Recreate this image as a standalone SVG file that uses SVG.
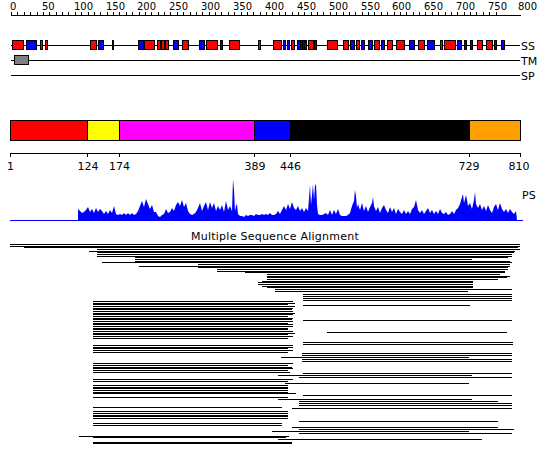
<svg xmlns="http://www.w3.org/2000/svg" width="550" height="465" viewBox="0 0 550 465">
<style>
text{font-family:"DejaVu Sans","Liberation Sans",sans-serif;font-size:11px;fill:#000}
.sm{font-size:10px}
.ln{stroke:#000;stroke-width:1;fill:none;shape-rendering:crispEdges}
.bx{stroke:#000;stroke-width:1;shape-rendering:crispEdges}
.r{fill:#ff0000}.b{fill:#0000ff}
</style>
<rect width="550" height="465" fill="#fff"/>
<g id="ruler">
<path class="ln" d="M11,15.5H521"/>
<path class="ln" d="M11.5,15.5v-4m6.375,4v-4m6.375,4v-4m6.375,4v-4m6.375,4v-4m6.375,4v-4m6.375,4v-4m6.375,4v-4m6.375,4v-4m6.375,4v-4m6.375,4v-4m6.375,4v-4m6.375,4v-4m6.375,4v-4m6.375,4v-4m6.375,4v-4m6.375,4v-4m6.375,4v-4m6.375,4v-4m6.375,4v-4m6.375,4v-4m6.375,4v-4m6.375,4v-4m6.375,4v-4m6.375,4v-4m6.375,4v-4m6.375,4v-4m6.375,4v-4m6.375,4v-4m6.375,4v-4m6.375,4v-4m6.375,4v-4m6.375,4v-4m6.375,4v-4m6.375,4v-4m6.375,4v-4m6.375,4v-4m6.375,4v-4m6.375,4v-4m6.375,4v-4m6.375,4v-4m6.375,4v-4m6.375,4v-4m6.375,4v-4m6.375,4v-4m6.375,4v-4m6.375,4v-4m6.375,4v-4m6.375,4v-4m6.375,4v-4m6.375,4v-4m6.375,4v-4m6.375,4v-4m6.375,4v-4m6.375,4v-4m6.375,4v-4m6.375,4v-4m6.375,4v-4m6.375,4v-4m6.375,4v-4m6.375,4v-4m6.375,4v-4m6.375,4v-4m6.375,4v-4m6.375,4v-4m6.375,4v-4m6.375,4v-4m6.375,4v-4m6.375,4v-4m6.375,4v-4m6.375,4v-4m6.375,4v-4m6.375,4v-4m6.375,4v-4m6.375,4v-4m6.375,4v-4m6.375,4v-4"/>
<g class="sm"><text class="sm" x="10" y="10">0</text><text class="sm" x="42" y="10">50</text><text class="sm" x="74" y="10">100</text><text class="sm" x="106" y="10">150</text><text class="sm" x="137" y="10">200</text><text class="sm" x="169" y="10">250</text><text class="sm" x="201" y="10">300</text><text class="sm" x="233" y="10">350</text><text class="sm" x="265" y="10">400</text><text class="sm" x="297" y="10">450</text><text class="sm" x="329" y="10">500</text><text class="sm" x="361" y="10">550</text><text class="sm" x="392" y="10">600</text><text class="sm" x="424" y="10">650</text><text class="sm" x="456" y="10">700</text><text class="sm" x="488" y="10">750</text><text class="sm" x="518" y="10">800</text></g>
</g>
<g id="tracks">
<path class="ln" d="M11,45.5H520M11,60.5H520M11,75.5H520"/>
<text x="521" y="49.5">SS</text><text x="521" y="64.5">TM</text><text x="521" y="79.5">SP</text>
<rect class="bx" x="14.5" y="55.5" width="14" height="9" fill="#808080"/>
</g>
<g id="ss">
<rect class="bx r" x="12.5" y="40.5" width="11" height="9"/>
<rect class="bx b" x="26.5" y="40.5" width="10" height="9"/>
<rect class="bx r" x="40.5" y="40.5" width="2" height="9"/>
<rect class="bx r" x="45.5" y="40.5" width="2" height="9"/>
<rect class="bx r" x="90.5" y="40.5" width="6" height="9"/>
<rect class="bx b" x="98.5" y="40.5" width="5" height="9"/>
<rect class="bx b" x="112.5" y="40.5" width="1" height="9"/>
<rect class="bx b" x="138.5" y="40.5" width="5" height="9"/>
<rect class="bx r" x="144.5" y="40.5" width="10" height="9"/>
<rect class="bx r" x="157.5" y="40.5" width="3" height="9"/>
<rect class="bx r" x="161.5" y="40.5" width="3" height="9"/>
<rect class="bx r" x="165.5" y="40.5" width="3" height="9"/>
<rect class="bx b" x="173.5" y="40.5" width="5" height="9"/>
<rect class="bx r" x="182.5" y="40.5" width="6" height="9"/>
<rect class="bx b" x="199.5" y="40.5" width="5" height="9"/>
<rect class="bx r" x="206.5" y="40.5" width="11" height="9"/>
<rect class="bx b" x="220.5" y="40.5" width="2" height="9"/>
<rect class="bx r" x="229.5" y="40.5" width="10" height="9"/>
<rect class="bx r" x="258.5" y="40.5" width="2" height="9"/>
<rect class="bx r" x="273.5" y="40.5" width="8" height="9"/>
<rect class="bx b" x="283.5" y="40.5" width="2" height="9"/>
<rect class="bx b" x="287.5" y="40.5" width="2" height="9"/>
<rect class="bx r" x="291.5" y="40.5" width="3" height="9"/>
<rect class="bx b" x="297.5" y="40.5" width="3" height="9"/>
<rect class="bx b" x="300.5" y="40.5" width="2" height="9"/>
<rect class="bx b" x="302.5" y="40.5" width="2" height="9"/>
<rect class="bx b" x="304.5" y="40.5" width="2" height="9"/>
<rect class="bx r" x="308.5" y="40.5" width="5" height="9"/>
<rect class="bx b" x="314.5" y="40.5" width="2" height="9"/>
<rect class="bx r" x="327.5" y="40.5" width="10" height="9"/>
<rect class="bx r" x="343.5" y="40.5" width="5" height="9"/>
<rect class="bx b" x="350.5" y="40.5" width="4" height="9"/>
<rect class="bx r" x="356.5" y="40.5" width="3" height="9"/>
<rect class="bx b" x="361.5" y="40.5" width="3" height="9"/>
<rect class="bx b" x="368.5" y="40.5" width="4" height="9"/>
<rect class="bx r" x="374.5" y="40.5" width="5" height="9"/>
<rect class="bx b" x="381.5" y="40.5" width="3" height="9"/>
<rect class="bx r" x="387.5" y="40.5" width="5" height="9"/>
<rect class="bx r" x="396.5" y="40.5" width="8" height="9"/>
<rect class="bx b" x="409.5" y="40.5" width="5" height="9"/>
<rect class="bx r" x="418.5" y="40.5" width="6" height="9"/>
<rect class="bx b" x="427.5" y="40.5" width="7" height="9"/>
<rect class="bx r" x="440.5" y="40.5" width="2" height="9"/>
<rect class="bx r" x="444.5" y="40.5" width="11" height="9"/>
<rect class="bx b" x="457.5" y="40.5" width="4" height="9"/>
<rect class="bx b" x="464.5" y="40.5" width="2" height="9"/>
<rect class="bx b" x="470.5" y="40.5" width="2" height="9"/>
<rect class="bx r" x="477.5" y="40.5" width="5" height="9"/>
<rect class="bx r" x="486.5" y="40.5" width="6" height="9"/>
<rect class="bx b" x="494.5" y="40.5" width="2" height="9"/>
<rect class="bx b" x="501.5" y="40.5" width="3" height="9"/>
</g>
<g id="domains">
<rect class="bx" x="10.5" y="120.5" width="77" height="20" fill="#ff0000"/>
<rect class="bx" x="87.5" y="120.5" width="31.5" height="20" fill="#ffff00"/>
<rect class="bx" x="119" y="120.5" width="135.5" height="20" fill="#ff00ff"/>
<rect class="bx" x="254.5" y="120.5" width="36" height="20" fill="#0000ff"/>
<rect class="bx" x="290.5" y="120.5" width="178.5" height="20" fill="#000000"/>
<rect class="bx" x="469" y="120.5" width="51" height="20" fill="#ffa000"/>
<path class="ln" d="M10,153.5H520.5M10.5,153v4M87.5,153v4M119.5,153v4M254.5,153v4M290.5,153v4M469.5,153v4M520.5,153v4"/>
<g text-anchor="middle"><text x="10.5" y="170">1</text><text x="88" y="170">124</text><text x="119.5" y="170">174</text><text x="255" y="170">389</text><text x="290.5" y="170">446</text><text x="469" y="170">729</text><text x="519" y="170">810</text></g>
</g>
<g id="ps">
<path fill="#0000ff" d="M78,220L78,209 80,211 82,213 84,212 86,210 88,207 90,212 92,209 94,213 96,208 98,212 100,209 102,211 104,214 106,211 108,214 110,210 112,213 114,206 116,214 118,215 120,214 122,215 124,213 126,215 128,213 130,215 132,213 134,215 136,214 138,211 140,206 142,201 144,207 146,199 148,204 150,209 152,205 154,212 156,212 158,216 160,217 162,215 164,214 166,209 168,213 170,212 172,208 174,211 176,205 178,202 180,206 182,200 184,207 186,203 188,211 190,214 192,215 194,214 196,212 198,208 200,203 202,211 204,206 206,202 208,210 210,202 212,208 214,203 216,211 218,206 220,210 222,205 224,212 226,201 228,210 230,206 232,211 233,179 234,190 235,211 236,206 237,204 238,214 240,216 242,216 244,217 246,215 248,216 250,215 252,215 254,216 256,214 258,215 260,215 262,214 264,215 266,214 268,215 270,213 272,215 274,215 276,214 278,211 280,214 282,210 284,206 286,210 288,204 290,209 292,202 294,208 296,210 298,206 300,211 302,208 304,212 306,208 308,211 310,185 311,205 312,195 313,184 314,200 315,186 316,184 317,205 318,214 320,215 322,215 324,214 326,213 328,215 330,210 332,215 334,210 336,214 338,209 340,215 342,216 344,216 346,216 348,215 350,213 352,206 354,201 355,190 356,196 357,208 358,204 360,210 362,203 364,211 366,206 368,212 370,207 372,203 373,197 374,206 376,211 378,207 380,213 382,208 384,205 386,210 388,213 390,207 392,212 394,208 396,214 398,209 400,212 402,214 404,210 406,214 408,211 410,214 412,209 414,207 416,200 418,210 420,213 422,210 424,214 426,211 428,208 430,213 432,210 434,214 436,211 438,214 440,209 442,213 444,214 446,212 448,215 450,214 452,211 454,214 456,210 458,208 460,204 462,197 463,194 464,203 466,195 467,200 468,206 470,203 472,209 474,200 475,192 476,204 478,208 480,204 482,210 484,206 486,211 488,205 490,210 492,213 494,207 496,204 498,210 500,203 502,209 504,212 506,209 508,213 510,209 512,212 514,214 516,211 517,220Z"/>
<path d="M10,220.5H523" stroke="#0000ff" stroke-width="1" shape-rendering="crispEdges"/>
<text x="522" y="199">PS</text>
</g>
<g id="msa">
<text x="275" y="240" text-anchor="middle" letter-spacing="0.25">Multiple Sequence Alignment</text>
<path class="ln" d="M10,244.5H520M10,246.5H520M24,247.5H518M97,249.5H520M89,251.5H515M97,252.5H514M97,254.5H512M97,256.5H512M135,257.5H508M135,259.5H472M135,261.5H510M102,262.5H512M198,264.5H510M139,266.5H510M198,267.5H508M217,269.5H508M217,271.5H505M245,272.5H505M267,274.5H500M267,276.5H510M267,277.5H507M267,279.5H498M262,281.5H473M258,282.5H473M258,284.5H473M262,286.5H473M267,287.5H473M275,289.5H512M275,291.5H468M303,294.5H512M303,296.5H512M303,298.5H512M303,300.5H512M303,305.5H470M303,320.5H512M327,332.5H507M303,342.5H513M303,344.5H513M302,353.5H512M302,355.5H512M281,357.5H469M302,359.5H512M302,361.5H512M303,373.5H512M278,375.5H472M299,377.5H512M285,383.5H469M303,395.5H512M278,399.5H472M299,401.5H498M299,403.5H512M299,405.5H512M292,408.5H512M299,421.5H498M292,427.5H498M299,429.5H514M272,431.5H469M299,433.5H512M278,439.5H482"/>
<path class="ln" d="M93,301.5H293M93,303.5H295M93,304.5H288M93,306.5H295M93,308.5H293M93,309.5H292M93,311.5H293M93,313.5H295M93,314.5H293M93,316.5H288M93,318.5H293M93,319.5H292M93,321.5H293M93,323.5H288M93,324.5H293M93,326.5H293M93,328.5H288M93,329.5H288M93,331.5H293M93,333.5H295M93,334.5H288M93,336.5H293M93,338.5H288M93,345.5H293M93,347.5H293M93,348.5H288M93,350.5H293M93,352.5H288M93,363.5H293M93,365.5H288M93,367.5H292M93,368.5H293M93,370.5H288M93,372.5H290M93,379.5H293M93,381.5H288M93,385.5H288M93,387.5H288M93,388.5H288M93,390.5H288M93,392.5H288M93,393.5H296M93,397.5H288M93,407.5H282M93,411.5H288M93,413.5H288M93,415.5H288M93,416.5H288M93,418.5H288M93,423.5H282M93,425.5H282M79,436.5H289M93,437.5H286M93,442.5H292M93,443.5H292"/>
</g>
</svg>
